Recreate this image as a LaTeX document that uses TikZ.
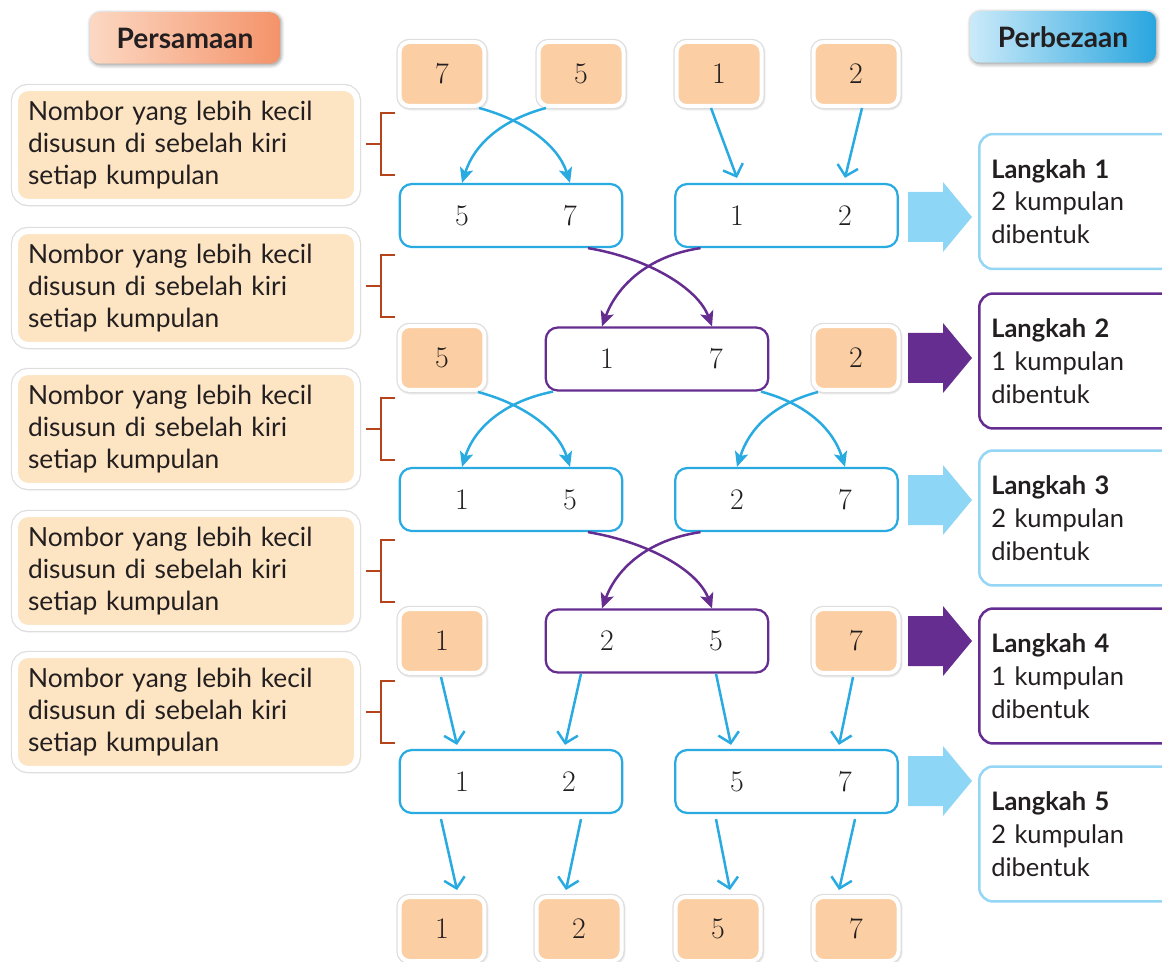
\documentclass[tikz,border=0pt]{standalone}
\usepackage{fontspec}
\setsansfont{Lato}
\usetikzlibrary{arrows.meta,calc,shadows.blur}

\definecolor{peach}{HTML}{FBCEA3}
\definecolor{notepeach}{HTML}{FDE4C2}
\definecolor{skyblue}{HTML}{29ABE2}
\definecolor{paleblue}{HTML}{8ED6F6}
\definecolor{edgeblue}{HTML}{94D6F3}
\definecolor{grape}{HTML}{662D91}
\definecolor{rust}{HTML}{B5441C}
\definecolor{inkc}{HTML}{231F20}
\definecolor{hdrpeachA}{HTML}{FCD8C2}
\definecolor{hdrpeachB}{HTML}{F4936A}
\definecolor{hdrblueA}{HTML}{CBEAF9}
\definecolor{hdrblueB}{HTML}{29A6DF}

\tikzset{
  softshadow/.style={blur shadow={shadow blur steps=8, shadow xshift=0.5pt,
      shadow yshift=-0.7pt, shadow opacity=45, shadow blur radius=2.2pt}},
  halo/.style={preaction={draw=black!13, line width=#1}},
  numbox/.style={rectangle, rounded corners=0.2cm, fill=peach, draw=white,
      line width=0.08cm, minimum width=1.7cm, minimum height=1.28cm,
      text=inkc, font=\fontsize{17}{20}\selectfont, softshadow, halo=0.13cm},
  groupbox/.style={rectangle, rounded corners=0.24cm, draw=skyblue, fill=white,
      line width=0.045cm, minimum width=4.45cm, minimum height=1.26cm},
  pairbox/.style={groupbox, draw=grape},
  digit/.style={inner sep=0pt, text=inkc, font=\fontsize{17}{20}\selectfont},
  note/.style={rectangle, rounded corners=0.26cm, fill=notepeach, draw=white,
      line width=0.12cm, minimum width=6.84cm, minimum height=2.28cm,
      inner xsep=0.26cm, text width=6.32cm, align=left, text=inkc,
      font=\sffamily\fontsize{15}{18.3}\selectfont, softshadow, halo=0.17cm},
  stepnote/.style={rectangle, rounded corners=0.28cm, draw=edgeblue, fill=white,
      line width=0.05cm, minimum width=4.2cm, minimum height=2.7cm,
      inner xsep=0.24cm, text width=3.72cm, align=left, anchor=west, text=inkc,
      font=\sffamily\fontsize{14.5}{18.6}\selectfont},
  hdr/.style={rectangle, rounded corners=0.2cm, minimum width=3.8cm,
      minimum height=1.03cm, text=inkc,
      font=\sffamily\bfseries\fontsize{16}{19}\selectfont, softshadow},
  bracket/.style={draw=rust, line width=0.045cm},
  curveb/.style={draw=skyblue, line width=0.05cm,
      -{Stealth[length=0.3cm, width=0.27cm, inset=0.07cm]}},
  curvep/.style={curveb, draw=grape},
  lineb/.style={draw=skyblue, line width=0.05cm,
      -{Straight Barb[length=0.2cm, width=0.42cm]}},
}

% wide arrow between a row and its step box: \steparrow{centre y}{colour}
\newcommand{\steparrow}[2]{%
  \fill[#2] (908,#1-25) -- (943,#1-25) -- (943,#1-35) -- (972,#1)
    -- (943,#1+35) -- (943,#1+25) -- (908,#1+25) -- cycle;}

% bracket beside a note: \notebracket{centre y}
\newcommand{\notebracket}[1]{%
  \draw[bracket] (395,#1-31) -- (381,#1-31) -- (381,#1+31) -- (395,#1+31);
  \draw[bracket] (366,#1) -- (381,#1);}

\begin{document}
\begin{tikzpicture}[x=0.02cm, y=-0.02cm]
\useasboundingbox (0,0) rectangle (1162,962);
\clip (0,0) rectangle (1162,962);

% headers
\node[hdr, left color=hdrpeachA, right color=hdrpeachB] (hsame) at (185,38) {Persamaan};
\node[hdr, minimum width=3.72cm, left color=hdrblueA, right color=hdrblueB] (hdiff) at (1063,37) {Perbezaan};

% notes on the left
\foreach \y/\n in {145/1, 288/2, 429/3, 571/4, 712/5} {
  \node[note] (note\n) at (186,\y) {Nombor yang lebih kecil\\disusun di sebelah kiri\\setiap kumpulan};
}
\foreach \y in {144, 286, 429, 571, 712} { \notebracket{\y} }

% row 1
\node[numbox] (a1) at (442,74) {7};
\node[numbox] (a2) at (581,74) {5};
\node[numbox] (a3) at (719,74) {1};
\node[numbox] (a4) at (856,74) {2};

% row 2
\node[groupbox] (b1) at (511,215.5) {};
\node[digit] (b1x) at (462,215.5) {5};
\node[digit] (b1y) at (570,215.5) {7};
\node[groupbox] (b2) at (786.5,215.5) {};
\node[digit] (b2x) at (737,215.5) {1};
\node[digit] (b2y) at (845,215.5) {2};

% row 3
\node[numbox] (c1) at (442,358) {5};
\node[pairbox] (c2) at (657,359) {};
\node[digit] (c2x) at (607,359) {1};
\node[digit] (c2y) at (716,359) {7};
\node[numbox] (c3) at (856,358) {2};

% row 4
\node[groupbox] (d1) at (511,499.5) {};
\node[digit] (d1x) at (462,499.5) {1};
\node[digit] (d1y) at (570,499.5) {5};
\node[groupbox] (d2) at (786.5,499.5) {};
\node[digit] (d2x) at (737,499.5) {2};
\node[digit] (d2y) at (845,499.5) {7};

% row 5
\node[numbox] (e1) at (442,641) {1};
\node[pairbox] (e2) at (657,641) {};
\node[digit] (e2x) at (607,641) {2};
\node[digit] (e2y) at (716,641) {5};
\node[numbox] (e3) at (856,641) {7};

% row 6
\node[groupbox] (f1) at (511,781.5) {};
\node[digit] (f1x) at (462,781.5) {1};
\node[digit] (f1y) at (569,781.5) {2};
\node[groupbox] (f2) at (786.5,781.5) {};
\node[digit] (f2x) at (737,781.5) {5};
\node[digit] (f2y) at (845,781.5) {7};

% row 7
\node[numbox] (g1) at (442,929) {1};
\node[numbox] (g2) at (579,929) {2};
\node[numbox] (g3) at (718,929) {5};
\node[numbox] (g4) at (856,929) {7};

% step boxes on the right
\node[stepnote] (s1) at (978,201.5) {\textbf{Langkah 1}\\2 kumpulan\\dibentuk};
\node[stepnote, draw=grape] (s2) at (978,361) {\textbf{Langkah 2}\\1 kumpulan\\dibentuk};
\node[stepnote] (s3) at (978,518) {\textbf{Langkah 3}\\2 kumpulan\\dibentuk};
\node[stepnote, draw=grape] (s4) at (978,676) {\textbf{Langkah 4}\\1 kumpulan\\dibentuk};
\node[stepnote] (s5) at (978,834) {\textbf{Langkah 5}\\2 kumpulan\\dibentuk};

\steparrow{217}{paleblue}
\steparrow{358}{grape}
\steparrow{500}{paleblue}
\steparrow{641}{grape}
\steparrow{781}{paleblue}

% row 1 -> row 2
\draw[curveb] ($(a1.south)+(37,0)$) .. controls +(45,12) and +(-12,-38) .. (b1y |- b1.north);
\draw[curveb] ($(a2.south)+(-35,0)$) .. controls +(-45,12) and +(12,-38) .. (b1x |- b1.north);
\draw[lineb] ($(a3.south)+(-8,0)$) -- ($(b2x |- b2.north)+(0,-5)$);
\draw[lineb] ($(a4.south)+(6,0)$) -- ($(b2y |- b2.north)+(0,-5)$);

% row 2 -> row 3
\draw[curvep] ($(b1.south)+(77,0)$) .. controls +(60,10) and +(-14,-38) .. ($(c2y |- c2.north)+(-4,0)$);
\draw[curvep] ($(b2.south)+(-86,0)$) .. controls +(-55,8) and +(14,-38) .. ($(c2x |- c2.north)+(-5,0)$);

% row 3 -> row 4
\draw[curveb] ($(c1.south)+(36,0)$) .. controls +(45,12) and +(-12,-38) .. (d1y |- d1.north);
\draw[curveb] ($(c2.south)+(-104,0)$) .. controls +(-50,10) and +(12,-38) .. (d1x |- d1.north);
\draw[curveb] ($(c2.south)+(104,0)$) .. controls +(45,12) and +(-12,-38) .. (d2y |- d2.north);
\draw[curveb] ($(c3.south)+(-38,0)$) .. controls +(-45,12) and +(12,-38) .. (d2x |- d2.north);

% row 4 -> row 5
\draw[curvep] ($(d1.south)+(77,0)$) .. controls +(60,10) and +(-14,-38) .. ($(e2y |- e2.north)+(-4,0)$);
\draw[curvep] ($(d2.south)+(-86,0)$) .. controls +(-55,8) and +(14,-38) .. ($(e2x |- e2.north)+(-5,0)$);

% row 5 -> row 6
\draw[lineb] ($(e1.south)+(-1,2)$) -- ($(f1x |- f1.north)+(-5,-4)$);
\draw[lineb] ($(e2.south)+(-76,0)$) -- ($(f1y |- f1.north)+(-4,-4)$);
\draw[lineb] ($(e2.south)+(59,0)$) -- ($(f2x |- f2.north)+(-6,-4)$);
\draw[lineb] ($(e3.south)+(-3,2)$) -- ($(f2y |- f2.north)+(-6,-4)$);

% row 6 -> row 7
\draw[lineb] ($(f1x |- f1.south)+(-21,5)$) -- ($(g1.north)+(15,-5)$);
\draw[lineb] ($(f1y |- f1.south)+(12,5)$) -- ($(g2.north)+(-13,-5)$);
\draw[lineb] ($(f2x |- f2.south)+(-21,5)$) -- ($(g3.north)+(12,-5)$);
\draw[lineb] ($(f2y |- f2.south)+(10,5)$) -- ($(g4.north)+(-17,-5)$);
\end{tikzpicture}
\end{document}
